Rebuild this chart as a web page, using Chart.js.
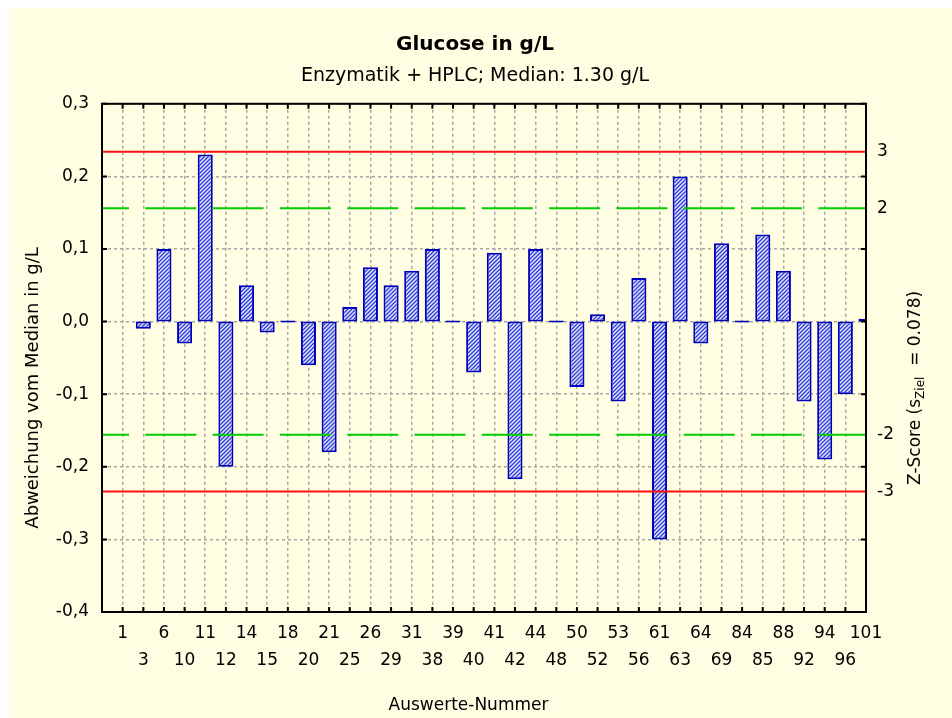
<html>

<head>
    <meta charset="utf-8" />
    <script src="https://cdn.jsdelivr.net/npm/chart.js@4.4.1/dist/chart.umd.min.js"></script>
    <title>Glucose in g/L</title>
    <style>
        body { margin: 0; background: #fff; }
        #bar-chart { position: absolute; left: 9px; top: 8px; background: #fffde2; }
    </style>
</head>

<body>
    <canvas id="bar-chart" width="943" height="710"></canvas>
    <script>
        // Auswerte-Nummern (x categories) and deviation from median in g/L
        const categories = ['1', '3', '6', '10', '11', '12', '14', '15', '18', '20', '21', '25', '26', '29', '31', '38', '39', '40', '41',
            '42', '44', '48', '50', '52', '53', '56', '61', '63', '64', '69', '84', '85', '88', '92', '94', '96', '101'];
        const values = [null, -0.01, 0.10, -0.03, 0.23, -0.20, 0.05, -0.015, 0, -0.06, -0.18, 0.02, 0.075, 0.05, 0.07, 0.10, 0, -0.07, 0.095,
            -0.217, 0.10, 0, -0.09, 0.01, -0.11, 0.06, -0.30, 0.20, -0.03, 0.108, 0, 0.12, 0.07, -0.11, -0.19, -0.10, 0.004];
        const sZiel = 0.078;
        const zTicks = [-3, -2, 2, 3];
        const yMin = -0.4, yMax = 0.3, yStep = 0.1;

        const titleText = 'Glucose in g/L';
        const subtitleText = 'Enzymatik + HPLC; Median: 1.30 g/L';
        const xTitle = 'Auswerte-Nummer';
        const yTitle = 'Abweichung vom Median in g/L';

        const FONT = '"DejaVu Sans", "Liberation Sans", Arial, sans-serif';

        function hatch() {
            const c = document.createElement('canvas');
            c.width = 4; c.height = 4;
            const x = c.getContext('2d');
            x.fillStyle = '#e6e8ff';
            x.fillRect(0, 0, 4, 4);
            x.strokeStyle = '#2f3fd0';
            x.lineWidth = 1.4;
            x.beginPath();
            x.moveTo(0, 4); x.lineTo(4, 0);
            x.moveTo(-1, 1); x.lineTo(1, -1);
            x.moveTo(3, 5); x.lineTo(5, 3);
            x.stroke();
            return x.createPattern(c, 'repeat');
        }

        // red = +-3 z, green dashed = +-2 z, drawn over the bars
        const limitLines = {
            id: 'limitLines',
            afterDatasetsDraw(chart) {
                const { ctx, chartArea: a, scales: { y } } = chart;
                [[3, '#ff1010', []], [2, '#00cc00', [51, 16.3]]].forEach(([z, col, dash]) => {
                    [1, -1].forEach(sign => {
                        const py = y.getPixelForValue(sign * z * sZiel);
                        ctx.save();
                        ctx.strokeStyle = col;
                        ctx.lineWidth = 2;
                        ctx.setLineDash(dash);
                        ctx.lineDashOffset = 24;
                        ctx.beginPath();
                        ctx.moveTo(a.left, py);
                        ctx.lineTo(a.right, py);
                        ctx.stroke();
                        ctx.restore();
                    });
                });
            }
        };

        // frame, inner tick marks and the axis titles
        const frame = {
            id: 'frame',
            afterDraw(chart) {
                const { ctx, chartArea: a, scales: { x, y } } = chart;
                ctx.save();
                ctx.strokeStyle = '#000';
                ctx.lineWidth = 2;
                ctx.beginPath();
                y.ticks.forEach(t => {
                    const py = y.getPixelForValue(t.value);
                    ctx.moveTo(a.left, py); ctx.lineTo(a.left + 5, py);
                    ctx.moveTo(a.right, py); ctx.lineTo(a.right - 5, py);
                });
                x.ticks.forEach(t => {
                    const px = x.getPixelForValue(t.value);
                    ctx.moveTo(px, a.top); ctx.lineTo(px, a.top + 5);
                    ctx.moveTo(px, a.bottom); ctx.lineTo(px, a.bottom - 5);
                });
                ctx.stroke();
                ctx.strokeRect(a.left, a.top, a.right - a.left, a.bottom - a.top);

                ctx.fillStyle = '#000';
                ctx.textBaseline = 'middle';
                ctx.textAlign = 'center';
                ctx.font = '17px ' + FONT;
                const cy = (a.top + a.bottom) / 2 + 30;

                ctx.fillText(xTitle, chart.width / 2 - 12, chart.height - 12);

                ctx.save();
                ctx.font = '18px ' + FONT;
                ctx.translate(24, cy);
                ctx.rotate(-Math.PI / 2);
                ctx.fillText(yTitle, 0, 0);
                ctx.restore();

                // Z-Score (s_Ziel = 0.078)
                const p1 = 'Z-Score (s', sub = 'Ziel', p2 = '  = ' + sZiel.toFixed(3) + ')';
                const big = '17px ' + FONT, small = '12px ' + FONT;
                ctx.font = big;
                const w1 = ctx.measureText(p1).width, w3 = ctx.measureText(p2).width;
                ctx.font = small;
                const w2 = ctx.measureText(sub).width;
                let sx = -(w1 + w2 + w3) / 2;
                ctx.save();
                ctx.translate(chart.width - 36, cy);
                ctx.rotate(-Math.PI / 2);
                ctx.textAlign = 'left';
                ctx.font = big;
                ctx.fillText(p1, sx, 0);
                sx += w1;
                ctx.font = small;
                ctx.fillText(sub, sx, 5);
                sx += w2;
                ctx.font = big;
                ctx.fillText(p2, sx, 0);
                ctx.restore();
                ctx.restore();
            }
        };

        const gridLine = { color: '#a6a6a6', lineWidth: 1.5, drawTicks: false };

        new Chart(document.getElementById('bar-chart'), {
            type: 'bar',
            data: {
                datasets: [{
                    label: yTitle,
                    data: values.map((v, i) => ({ x: i, y: v })),
                    backgroundColor: hatch(),
                    borderColor: '#0000bb',
                    borderWidth: 2,
                    borderSkipped: false,
                    minBarLength: 2,
                    categoryPercentage: 1,
                    barPercentage: 0.73,
                }]
            },
            options: {
                responsive: false,
                animation: false,
                layout: { padding: { left: 0, right: 11, top: 0, bottom: 0 } },
                plugins: {
                    legend: { display: false },
                    tooltip: { enabled: false },
                    title: {
                        display: true, text: titleText, color: '#000',
                        font: { family: FONT, size: 20, weight: 'bold' },
                        padding: { top: 25, bottom: 0 }
                    },
                    subtitle: {
                        display: true, text: subtitleText, color: '#000',
                        font: { family: FONT, size: 19 },
                        padding: { top: 8, bottom: 16 }
                    }
                },
                scales: {
                    x: {
                        type: 'linear',
                        min: -1,
                        max: categories.length - 1,
                        offset: false,
                        grid: Object.assign({ offset: false }, gridLine),
                        border: { display: false, dash: [3, 3] },
                        afterFit: s => { s.height = 106; },
                        ticks: {
                            stepSize: 1,
                            maxTicksLimit: 100,
                            autoSkip: false,
                            maxRotation: 0,
                            padding: 8.5,
                            color: '#000',
                            font: { family: FONT, size: 17, lineHeight: 27 / 17 },
                            callback: v => {
                                const i = Math.round(v);
                                const lab = categories[i];
                                if (lab === undefined) return '';
                                return i % 2 === 0 ? lab : ['', lab];
                            }
                        }
                    },
                    y: {
                        min: yMin,
                        max: yMax,
                        grid: gridLine,
                        border: { display: false, dash: [3, 3] },
                        afterFit: s => { s.width = 93; },
                        ticks: {
                            stepSize: yStep,
                            padding: 13,
                            color: '#000',
                            font: { family: FONT, size: 17 },
                            callback: v => (Math.abs(v) < 1e-9 ? 0 : v).toFixed(1).replace('.', ',')
                        }
                    },
                    z: {
                        type: 'linear',
                        position: 'right',
                        min: yMin / sZiel,
                        max: yMax / sZiel,
                        afterBuildTicks: s => { s.ticks = zTicks.map(v => ({ value: v })); },
                        afterFit: s => { s.width = 75; },
                        grid: { drawOnChartArea: false, drawTicks: false },
                        border: { display: false },
                        ticks: {
                            padding: 11,
                            color: '#000',
                            font: { family: FONT, size: 17 },
                            callback: v => String(v)
                        }
                    }
                }
            },
            plugins: [limitLines, frame]
        });
    </script>
</body>

</html>
